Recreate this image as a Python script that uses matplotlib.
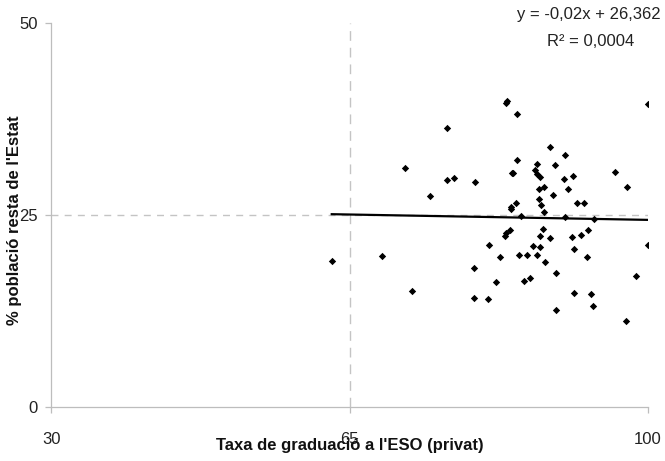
import matplotlib
matplotlib.use("Agg")
import matplotlib.pyplot as plt
import numpy as np

# Data
x_vals = [76.46, 71.53, 74.39, 76.42, 77.21, 79.71, 83.35, 83.50, 84.67, 99.98,
          88.54, 90.23, 84.64, 87.02, 89.06, 84.01, 84.20, 86.78, 87.02, 87.34,
          91.21, 90.19, 96.10, 97.55, 87.18, 87.84, 90.59, 88.86, 87.22, 87.49,
          84.48, 83.93, 83.97, 91.68, 92.46, 87.84, 85.14, 90.31, 93.71, 83.85,
          83.35, 83.23, 87.72, 87.30, 88.47, 91.09, 92.11, 92.93, 81.31, 86.51,
          87.37, 91.36, 99.98, 82.61, 84.84, 85.85, 87.02, 92.85, 87.92, 89.25,
          98.64, 82.21, 85.46, 86.16, 81.23, 91.36, 93.32, 89.25, 93.59, 97.39,
          62.89, 68.76, 72.35, 79.62, 79.62]
y_vals = [36.35, 31.13, 27.52, 29.53, 29.83, 29.26, 39.57, 39.91, 38.17, 39.51,
          33.87, 32.83, 32.17, 31.69, 31.56, 30.52, 30.44, 30.87, 30.35, 29.92,
          30.13, 29.66, 30.57, 28.69, 28.43, 28.69, 28.35, 27.65, 27.09, 26.34,
          26.56, 26.08, 25.74, 26.53, 26.53, 25.35, 24.87, 24.74, 24.44, 23.00,
          22.61, 22.26, 23.21, 22.30, 22.04, 22.13, 22.39, 23.00, 21.05, 21.00,
          20.87, 20.57, 21.05, 19.48, 19.74, 19.82, 19.82, 19.52, 18.87, 17.44,
          17.08, 16.30, 16.43, 16.78, 14.01, 14.83, 14.74, 12.65, 13.13, 11.18,
          18.96, 19.69, 15.13, 18.09, 14.21]

slope = -0.02
intercept = 26.362
r_squared_text = "0,0004"
x_ticks = [30, 65, 100]
y_ticks = [0, 25, 50]
x_ref = 65
y_ref = 25
x_label = "Taxa de graduació a l'ESO (privat)"
y_label = "% població resta de l'Estat"

plt.rcParams['font.family'] = ['Liberation Sans', 'DejaVu Sans']

fig = plt.figure(figsize=(6.65, 4.61), dpi=100)
ax = fig.add_axes([0.0774, 0.1178, 0.8970, 0.8317])

ax.set_xlim(30, 100)
ax.set_ylim(0, 50)

gray = '#c4c4c4'
ax.axvline(x_ref, color=gray, lw=1.0, dashes=(7, 5), zorder=1)
ax.axhline(y_ref, color=gray, lw=1.0, dashes=(5, 4.5), zorder=1)

ax.scatter(x_vals, y_vals, marker='D', s=14, color='black', zorder=3, linewidths=0)

xl = np.array([min(x_vals), max(x_vals)])
ax.plot(xl, slope * xl + intercept, color='black', lw=1.6, zorder=2)

for s in ['top', 'right']:
    ax.spines[s].set_visible(False)
for s in ['left', 'bottom']:
    ax.spines[s].set_color('#bdbdbd')
    ax.spines[s].set_linewidth(0.9)

ax.set_xticks(x_ticks)
ax.set_yticks(y_ticks)
ax.tick_params(axis='x', direction='out', length=4, width=0.9, color='#bdbdbd',
               pad=14, labelsize=12, labelcolor='#222222')
ax.tick_params(axis='y', direction='out', length=4, width=0.9, color='#bdbdbd',
               pad=6, labelsize=12, labelcolor='#222222')

fig.text(350 / 665, 1 - 445 / 461, x_label, ha='center', va='center',
         fontsize=12, fontweight='bold', color='#111111')
fig.text(15 / 665, 1 - 220 / 461, y_label, ha='center', va='center',
         rotation=90, fontsize=12, fontweight='bold', color='#111111')

eq = "y = -0,02x + 26,362"
fig.text(589 / 665, 1 - 15 / 461, eq, ha='center', va='center', fontsize=12, color='#222222')
fig.text(591 / 665, 1 - 42 / 461, "R\u00b2 = " + r_squared_text, ha='center', va='center',
         fontsize=12, color='#222222')

fig.savefig("out.png", dpi=100)
